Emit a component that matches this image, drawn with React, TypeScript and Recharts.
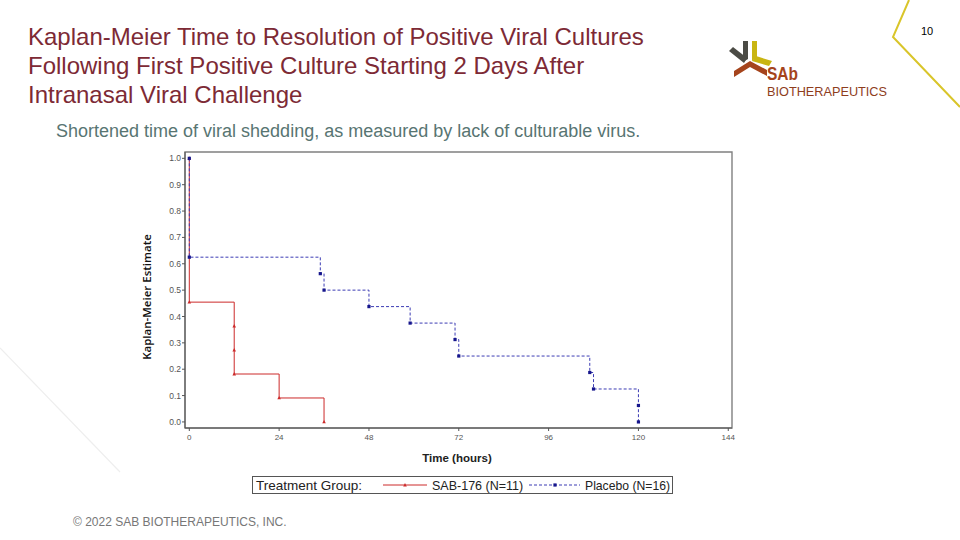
import React from 'react';
import { LineChart, Line, XAxis, YAxis, ReferenceArea } from 'recharts';

// ---- Data ----
const sabTimes = [0, 0, 12, 12, 12, 24, 36];
const sabSurvival = [1.0, 0.4545, 0.3636, 0.2727, 0.1818, 0.0909, 0.0];

const placeboTimes = [0, 0, 35, 36, 48, 59, 71, 72, 107, 108, 120, 120];
const placeboSurvival = [1.0, 0.625, 0.5625, 0.5, 0.4375, 0.375, 0.3125, 0.25, 0.1875, 0.125, 0.0625, 0.0];

const xTicks = [0, 24, 48, 72, 96, 120, 144];
const yTicks = [0, 0.1, 0.2, 0.3, 0.4, 0.5, 0.6, 0.7, 0.8, 0.9, 1.0];

const seriesNames = ['SAB-176 (N=11)', 'Placebo (N=16)'];

const sabData = sabTimes.map((t, i) => ({ t, s: sabSurvival[i] }));
const placeboData = placeboTimes.map((t, i) => ({ t, s: placeboSurvival[i] }));

const X_DOMAIN: [number, number] = [-1.15, 145];
const Y_DOMAIN: [number, number] = [-0.023, 1.024];

const RED = '#cc2a2a';
const BLUE_LINE = '#3c3cb4';
const BLUE_MARK = '#16168c';
const FONT = '"Liberation Sans", Arial, sans-serif';

const TriangleDot = (props: any) => {
  const { cx, cy } = props;
  if (cx == null || cy == null) return null;
  return <path d={`M${cx},${cy - 2} L${cx + 1.8},${cy + 1.4} L${cx - 1.8},${cy + 1.4} Z`} fill={RED} />;
};

const SquareDot = (props: any) => {
  const { cx, cy } = props;
  if (cx == null || cy == null) return null;
  return <rect x={cx - 1.6} y={cy - 1.6} width={3.2} height={3.2} fill={BLUE_MARK} />;
};

const Logo = () => (
  <g>
    {/* dark grey piece */}
    <path d="M743,41 L748,41 L748,59 L743,62 Z" fill="#4b4b45" />
    <path d="M729,51 L733,47 L747,58 L744,63 Z" fill="#4b4b45" />
    {/* yellow piece */}
    <path d="M752,41 L757,41 L757,57 L752,61 Z" fill="#c9b512" />
    <path d="M752,61 L756,56 L772,61 L769,66 Z" fill="#c9b512" />
    {/* brown chevron */}
    <path d="M734,71 L750,61 L767,70 L767,76 L750,67 L734,77 Z" fill="#a5441c" />
    <text x={767} y={80} fontFamily={FONT} fontWeight="bold" fontSize={18} textLength={31} lengthAdjust="spacingAndGlyphs" fill="#a5441c">SAb</text>
    <text x={767} y={96} fontFamily={FONT} fontSize={13.5} textLength={120} lengthAdjust="spacingAndGlyphs" fill="#8e3d1d">BIOTHERAPEUTICS</text>
  </g>
);

export default function App() {
  return (
    <div style={{ position: 'absolute', left: 0, top: 0, width: 960, height: 540, background: '#ffffff', overflow: 'hidden', fontFamily: FONT }}>
      {/* decorations */}
      <svg width={960} height={540} style={{ position: 'absolute', left: 0, top: 0 }}>
        <polyline points="909,0 893,37 960,107" fill="none" stroke="#d9c52a" strokeWidth={2} />
        <line x1={0} y1={348} x2={120} y2={472} stroke="#eeeeee" strokeWidth={1.2} />
        <Logo />
        <text x={921} y={35} fontFamily={FONT} fontSize={11} fill="#000">10</text>
      </svg>

      <div style={{ position: 'absolute', left: 28, top: 22, fontSize: 24, lineHeight: '29px', color: '#7d2a35', whiteSpace: 'pre' }}>
        {'Kaplan-Meier Time to Resolution of Positive Viral Cultures\nFollowing First Positive Culture Starting 2 Days After\nIntranasal Viral Challenge'}
      </div>
      <div style={{ position: 'absolute', left: 56, top: 120, fontSize: 18, lineHeight: '22px', color: '#587572', whiteSpace: 'pre' }}>
        Shortened time of viral shedding, as measured by lack of culturable virus.
      </div>

      <div style={{ position: 'absolute', left: 0, top: 0 }}>
        <LineChart width={960} height={540} margin={{ top: 152, right: 228, bottom: 72, left: 145 }}>
          <XAxis
            xAxisId="main"
            dataKey="t"
            type="number"
            domain={X_DOMAIN}
            ticks={xTicks}
            allowDataOverflow
            height={40}
            tickSize={3}
            tickMargin={3}
            stroke="#555"
            tick={{ fontSize: 8, fill: '#555', fontFamily: FONT }}
            interval={0}
          />
          <YAxis
            yAxisId="main"
            type="number"
            domain={Y_DOMAIN}
            ticks={yTicks}
            allowDataOverflow
            width={40}
            tickSize={3}
            tickMargin={1}
            stroke="#555"
            tickFormatter={(v: number) => v.toFixed(1)}
            tick={{ fontSize: 8.5, fill: '#555', fontFamily: FONT }}
            interval={0}
          />
          <ReferenceArea
            xAxisId="main"
            yAxisId="main"
            x1={X_DOMAIN[0]}
            x2={X_DOMAIN[1]}
            y1={Y_DOMAIN[0]}
            y2={Y_DOMAIN[1]}
            fill="none"
            fillOpacity={0}
            stroke="#808080"
            strokeWidth={1.4}
            ifOverflow="visible"
          />
          <Line
            xAxisId="main"
            yAxisId="main"
            data={sabData}
            dataKey="s"
            name={seriesNames[0]}
            type="stepAfter"
            stroke={RED}
            strokeWidth={1}
            dot={<TriangleDot />}
            activeDot={false}
            isAnimationActive={false}
          />
          <Line
            xAxisId="main"
            yAxisId="main"
            data={placeboData}
            dataKey="s"
            name={seriesNames[1]}
            type="stepAfter"
            stroke={BLUE_LINE}
            strokeWidth={1}
            strokeDasharray="3 2"
            dot={<SquareDot />}
            activeDot={false}
            isAnimationActive={false}
          />
        </LineChart>
      </div>

      {/* axis titles and legend */}
      <svg width={960} height={540} style={{ position: 'absolute', left: 0, top: 0, pointerEvents: 'none' }}>
        <text x={151} y={297} transform="rotate(-90 151 297)" textAnchor="middle" fontFamily='"Open Sans", "Noto Sans", sans-serif' fontSize={11.5} fontWeight={600} fill="#111">Kaplan-Meier Estimate</text>
        <text x={457} y={462} textAnchor="middle" fontFamily={FONT} fontSize={11.5} fontWeight="bold" fill="#222">Time (hours)</text>

        <rect x={252.5} y={476.5} width={420} height={17} fill="none" stroke="#555" strokeWidth={1} />
        <text x={256} y={489.5} fontFamily={FONT} fontSize={13.5} fill="#222">Treatment Group:</text>
        <line x1={383} y1={485} x2={427} y2={485} stroke={RED} strokeWidth={1} />
        <TriangleDot cx={405} cy={485} />
        <text x={432} y={489.5} fontFamily={FONT} fontSize={12.5} fill="#222">{seriesNames[0]}</text>
        <line x1={529} y1={485} x2={580} y2={485} stroke={BLUE_LINE} strokeWidth={1} strokeDasharray="3 2" />
        <SquareDot cx={555} cy={485} />
        <text x={585} y={489.5} fontFamily={FONT} fontSize={12.2} fill="#222">{seriesNames[1]}</text>
      </svg>

      <div style={{ position: 'absolute', left: 73, top: 515, fontSize: 12, lineHeight: '14px', color: '#777', whiteSpace: 'pre' }}>
        © 2022 SAB BIOTHERAPEUTICS, INC.
      </div>
    </div>
  );
}
